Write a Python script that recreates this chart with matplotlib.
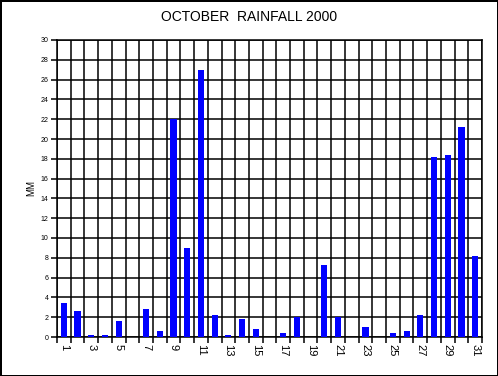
import numpy as np
import matplotlib
matplotlib.use("Agg")
import matplotlib.pyplot as plt

days = list(range(1, 32))
rain_mm = [3.4, 2.6, 0.2, 0.2, 1.6, 0.0, 2.8, 0.6, 22.0, 9.0,
           27.0, 2.2, 0.2, 1.8, 0.8, 0.0, 0.4, 2.0, 0.0, 7.3,
           2.0, 0.0, 1.0, 0.0, 0.4, 0.6, 2.2, 18.2, 18.4, 21.2,
           8.2]
y_ticks = list(range(0, 31, 2))
x_labels = [str(d) if d % 2 == 1 else "" for d in days]

plt.rcParams['font.family'] = ['Liberation Sans', 'DejaVu Sans']

fig = plt.figure(figsize=(4.98, 3.76), dpi=100)
fig.patch.set_edgecolor("black")
fig.patch.set_linewidth(2)
ax = fig.add_axes([57 / 498, 39 / 376, 425 / 498, 297 / 376])

ax.bar(days, rain_mm, width=0.45, color="#0000ff", zorder=3)

ax.set_xlim(0.5, 31.5)
ax.set_ylim(0, 30)

# gridlines at day boundaries, labels at day centres
ax.set_xticks(days)
ax.set_xticklabels(x_labels, rotation=-90, fontsize=8)
ax.set_xticks(np.arange(0.5, 32, 1), minor=True)
ax.tick_params(axis="x", which="major", length=0, pad=5)
ax.tick_params(axis="x", which="minor", length=4, width=1.1, direction="out")
ax.grid(True, axis="x", which="minor", color="black", linewidth=1.1, zorder=0)

ax.set_yticks(y_ticks)
ax.set_yticklabels([str(v) for v in y_ticks], fontsize=5)
ax.tick_params(axis="y", length=4, width=1.1, direction="out", pad=2)
ax.grid(True, axis="y", which="major", color="black", linewidth=1.1, zorder=0)
ax.set_axisbelow(True)

for s in ax.spines.values():
    s.set_linewidth(1.1)
    s.set_color("black")

ax.set_ylabel("MM", fontsize=7, labelpad=3)
fig.text(0.5, 1 - 17 / 376, "OCTOBER  RAINFALL 2000", ha="center", va="center", fontsize=10)

fig.savefig("out.png", dpi=100, edgecolor=fig.get_edgecolor())
